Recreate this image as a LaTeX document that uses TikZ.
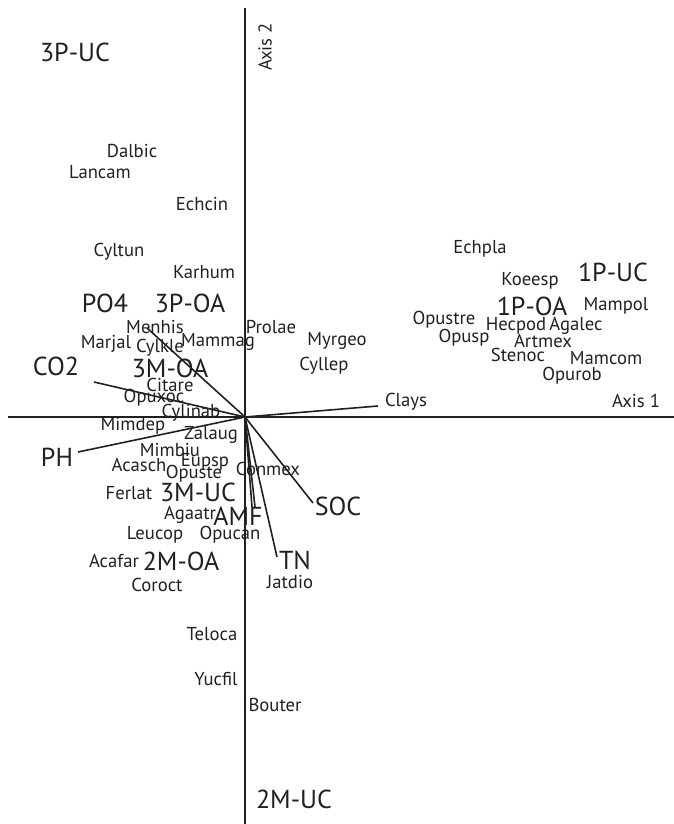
\documentclass[tikz,border=0pt]{standalone}
\usepackage{fontspec}
\setmainfont{PT Sans}
\usepackage{tikz}
\definecolor{ink}{HTML}{231F20}
\tikzset{sp/.style={font=\fontsize{14}{14}\selectfont, text=ink, inner sep=0pt}}
\tikzset{site/.style={font=\fontsize{19.5}{19.5}\selectfont, text=ink, inner sep=0pt}}
\tikzset{axisline/.style={draw=ink, line width=1.3pt}}
\tikzset{vec/.style={draw=ink, line width=1.2pt}}

\begin{document}
\begin{tikzpicture}[x=0.75pt, y=-0.75pt]
\useasboundingbox (0,0) rectangle (674,824);
% axes
\coordinate (o) at (245,417);
\coordinate (xl) at (8,417);
\coordinate (xr) at (674,417);
\coordinate (yt) at (245,8);
\coordinate (yb) at (245,824);
\draw[axisline] (xl) -- (xr);
\draw[axisline] (yt) -- (yb);
\node[sp] (ax1) at (636,401) {Axis 1};
\node[sp, rotate=90] (ax2) at (265,47) {Axis 2};

% sites
\node[site] (s3puc) at (75,52) {3P-UC};
\node[site] (s1puc) at (613,272) {1P-UC};
\node[site] (s1poa) at (532,306) {1P-OA};
\node[site] (s3poa) at (190,303) {3P-OA};
\node[site] (s3moa) at (170,368) {3M-OA};
\node[site] (s3muc) at (198,492) {3M-UC};
\node[site] (s2moa) at (181,561) {2M-OA};
\node[site] (s2muc) at (294,799) {2M-UC};

% soil variables
\node[site] (po4) at (105,303) {PO4};
\node[site] (co2) at (56,366) {CO2};
\node[site] (ph) at (57,457) {PH};
\node[site] (soc) at (338,506) {SOC};
\node[site] (amf) at (238,516) {AMF};
\node[site] (tn) at (295,560) {TN};
\node[sp] (clays) at (406,402) {Clays};
\coordinate (po4t) at (147,328);
\coordinate (co2t) at (94,382);
\coordinate (pht) at (78,452);
\coordinate (clayst) at (378,406);
\coordinate (soct) at (313,503);
\coordinate (amft) at (252,507);
\coordinate (amfu) at (255,507);
\coordinate (tnt) at (277,557);
\foreach \t in {po4t,co2t,pht,clayst,soct,amft,amfu,tnt}
  \draw[vec] (o) -- (\t);

% species
\node[sp] (dalbic) at (132,151) {Dalbic};
\node[sp] (lancam) at (100,172) {Lancam};
\node[sp] (echcin) at (202,204) {Echcin};
\node[sp] (cyltun) at (119,252) {Cyltun};
\node[sp] (karhum) at (204,272) {Karhum};
\node[sp] (echpla) at (480,249) {Echpla};
\node[sp] (koeesp) at (530,281) {Koeesp};
\node[sp] (mampol) at (616,306) {Mampol};
\node[sp] (opustre) at (444,320) {Opustre};
\node[sp] (hecpod) at (516,326) {Hecpod};
\node[sp] (agalec) at (576,326) {Agalec};
\node[sp] (opusp) at (464,338) {Opusp};
\node[sp] (artmex) at (543,341) {Artmex};
\node[sp] (stenoc) at (518,355) {Stenoc};
\node[sp] (mamcom) at (606,358) {Mamcom};
\node[sp] (opurob) at (572,376) {Opurob};
\node[sp] (menhis) at (155,327) {Menhis};
\node[sp] (prolae) at (271,327) {Prolae};
\node[sp] (marjal) at (106,344) {Marjal};
\node[sp] (cylkle) at (160,348) {Cylkle};
\node[sp] (mammag) at (218,342) {Mammag};
\node[sp] (myrgeo) at (337,341) {Myrgeo};
\node[sp] (cyllep) at (324,366) {Cyllep};
\node[sp] (citare) at (170,385) {Citare};
\node[sp] (opuxoc) at (154,398) {Opuxoc};
\node[sp] (cylinab) at (191,413) {Cylinab};
\node[sp] (mimdep) at (133,426) {Mimdep};
\node[sp] (zalaug) at (211,435) {Zalaug};
\node[sp] (mimbiu) at (170,450) {Mimbiu};
\node[sp] (acasch) at (139,465) {Acasch};
\node[sp] (eupsp) at (205,462) {Eupsp};
\node[sp] (opuste) at (194,474) {Opuste};
\node[sp] (conmex) at (268,469) {Conmex};
\node[sp] (ferlat) at (129,493) {Ferlat};
\node[sp] (agaatr) at (190,515) {Agaatr};
\node[sp] (leucop) at (155,535) {Leucop};
\node[sp] (opucan) at (230,535) {Opucan};
\node[sp] (acafar) at (114,561) {Acafar};
\node[sp] (coroct) at (157,585) {Coroct};
\node[sp] (jatdio) at (290,582) {Jatdio};
\node[sp] (teloca) at (212,634) {Teloca};
\node[sp] (yucfil) at (216,679) {Yucfil};
\node[sp] (bouter) at (275,705) {Bouter};
\end{tikzpicture}
\end{document}
